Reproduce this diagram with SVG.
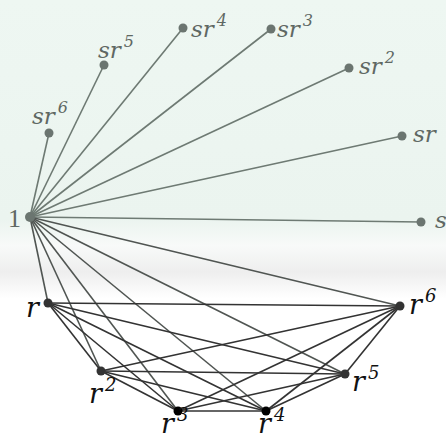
<svg xmlns="http://www.w3.org/2000/svg" width="446" height="439" viewBox="0 0 446 439">
<defs>
<linearGradient id="bg" x1="0" y1="0" x2="0" y2="1">
<stop offset="0" stop-color="#eef7f2"/>
<stop offset="0.5" stop-color="#ebf4ef"/>
<stop offset="0.56" stop-color="#f8faf9"/>
<stop offset="0.62" stop-color="#eeeeee"/>
<stop offset="0.68" stop-color="#ffffff"/>
<stop offset="1" stop-color="#ffffff"/>
</linearGradient>
</defs>
<style>
.se{stroke:#6e7a73;stroke-width:1.6;fill:none}
.oe{stroke:#505552;stroke-width:1.6;fill:none}
.re{stroke:#333;stroke-width:1.6;fill:none}
.sn{fill:#6b7570}
.rn{fill:#333}
.bn{fill:#000}
.sl{font-family:"DejaVu Serif",serif;font-style:italic;font-size:23px;fill:#5f6863}
.rl{font-family:"DejaVu Serif",serif;font-style:italic;font-size:27px;fill:#111}
.sup{font-size:16px}
.rsup{font-size:18px}
.one{font-family:"Liberation Serif",serif;font-size:26px;fill:#5f6863}
</style>
<rect width="446" height="439" fill="url(#bg)"/>
<g id="connectors">
<line class="se" x1="30" y1="217" x2="49" y2="133"/>
<line class="se" x1="30" y1="217" x2="104" y2="65"/>
<line class="se" x1="30" y1="217" x2="183" y2="28"/>
<line class="se" x1="30" y1="217" x2="271" y2="29"/>
<line class="se" x1="30" y1="217" x2="349" y2="68"/>
<line class="se" x1="30" y1="217" x2="402" y2="136"/>
<line class="se" x1="30" y1="217" x2="421" y2="222"/>
<line class="oe" x1="30" y1="217" x2="48" y2="303"/>
<line class="oe" x1="30" y1="217" x2="101" y2="371"/>
<line class="oe" x1="30" y1="217" x2="178" y2="411"/>
<line class="oe" x1="30" y1="217" x2="266" y2="411"/>
<line class="oe" x1="30" y1="217" x2="345" y2="374"/>
<line class="oe" x1="30" y1="217" x2="400" y2="306"/>
<line class="re" x1="48" y1="303" x2="101" y2="371"/>
<line class="re" x1="48" y1="303" x2="178" y2="411"/>
<line class="re" x1="48" y1="303" x2="266" y2="411"/>
<line class="re" x1="48" y1="303" x2="345" y2="374"/>
<line class="re" x1="48" y1="303" x2="400" y2="306"/>
<line class="re" x1="101" y1="371" x2="178" y2="411"/>
<line class="re" x1="101" y1="371" x2="266" y2="411"/>
<line class="re" x1="101" y1="371" x2="345" y2="374"/>
<line class="re" x1="101" y1="371" x2="400" y2="306"/>
<line class="re" x1="178" y1="411" x2="266" y2="411"/>
<line class="re" x1="178" y1="411" x2="345" y2="374"/>
<line class="re" x1="178" y1="411" x2="400" y2="306"/>
<line class="re" x1="266" y1="411" x2="345" y2="374"/>
<line class="re" x1="266" y1="411" x2="400" y2="306"/>
<line class="re" x1="345" y1="374" x2="400" y2="306"/>
</g>
<g id="n1"><circle class="sn" cx="30" cy="217" r="5"/><text class="one" x="8" y="227">1</text></g>
<g id="sr6"><circle class="sn" cx="49" cy="133" r="4.5"/><text class="sl" x="32" y="124">sr<tspan class="sup" dx="3" dy="-11">6</tspan></text></g>
<g id="sr5"><circle class="sn" cx="104" cy="65" r="4.5"/><text class="sl" x="98" y="58">sr<tspan class="sup" dx="3" dy="-11">5</tspan></text></g>
<g id="sr4"><circle class="sn" cx="183" cy="28" r="4.5"/><text class="sl" x="191" y="37">sr<tspan class="sup" dx="3" dy="-11">4</tspan></text></g>
<g id="sr3"><circle class="sn" cx="271" cy="29" r="4.5"/><text class="sl" x="277" y="37">sr<tspan class="sup" dx="3" dy="-11">3</tspan></text></g>
<g id="sr2"><circle class="sn" cx="349" cy="68" r="4.5"/><text class="sl" x="359" y="74">sr<tspan class="sup" dx="3" dy="-11">2</tspan></text></g>
<g id="sr"><circle class="sn" cx="402" cy="136" r="4.5"/><text class="sl" x="413" y="142">sr</text></g>
<g id="s"><circle class="sn" cx="421" cy="222" r="4.5"/><text class="sl" x="435" y="228">s</text></g>
<g id="r"><circle class="rn" cx="48" cy="303" r="4.5"/><text class="rl" x="26" y="317">r</text></g>
<g id="r2"><circle class="rn" cx="101" cy="371" r="4.5"/><text class="rl" x="89" y="403">r<tspan class="rsup" dx="3" dy="-12">2</tspan></text></g>
<g id="r3"><circle class="bn" cx="178" cy="411" r="4.5"/><text class="rl" x="161" y="433">r<tspan class="rsup" dx="3" dy="-12">3</tspan></text></g>
<g id="r4"><circle class="bn" cx="266" cy="411" r="4.5"/><text class="rl" x="258" y="433">r<tspan class="rsup" dx="3" dy="-12">4</tspan></text></g>
<g id="r5"><circle class="rn" cx="345" cy="374" r="4.5"/><text class="rl" x="352" y="391">r<tspan class="rsup" dx="3" dy="-12">5</tspan></text></g>
<g id="r6"><circle class="rn" cx="400" cy="306" r="4.5"/><text class="rl" x="409" y="314">r<tspan class="rsup" dx="3" dy="-12">6</tspan></text></g>
</svg>
